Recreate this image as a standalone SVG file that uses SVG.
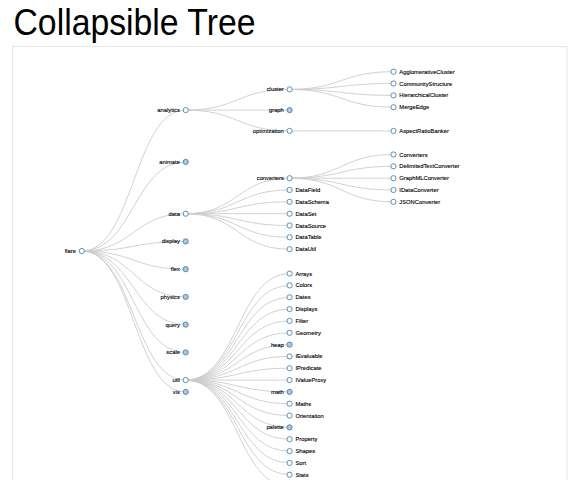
<svg xmlns="http://www.w3.org/2000/svg" width="583" height="480" viewBox="0 0 583 480">
<style>
.title{font-family:"Liberation Sans",Arial,Helvetica,sans-serif;font-size:36px;fill:#000}
.frame{fill:#fff;stroke:#e6e6e6;stroke-width:1}
.link{fill:none;stroke:#ccc;stroke-width:0.9}
.node circle{fill:#fff;stroke:steelblue;stroke-width:0.9}
.node.c circle{fill:lightsteelblue}
.node text{font-family:"Liberation Sans",Arial,Helvetica,sans-serif;font-size:5.8px;fill:#000;stroke:#000;stroke-width:0.12}
.node text.p{text-anchor:end}
.node text.f{text-anchor:start}
</style>
<rect width="583" height="480" fill="#fff"/>
<text class="title" x="13.5" y="34.5" textLength="242" lengthAdjust="spacingAndGlyphs">Collapsible Tree</text>
<rect class="frame" x="12.5" y="46.5" width="554.5" height="450"/>
<g id="links">
<path class="link" d="M81.8,251C133.75,251 133.75,110.1 185.7,110.1"/>
<path class="link" d="M81.8,251C133.75,251 133.75,161.9 185.7,161.9"/>
<path class="link" d="M81.8,251C133.75,251 133.75,213.7 185.7,213.7"/>
<path class="link" d="M81.8,251C133.75,251 133.75,241.4 185.7,241.4"/>
<path class="link" d="M81.8,251C133.75,251 133.75,269.2 185.7,269.2"/>
<path class="link" d="M81.8,251C133.75,251 133.75,296.9 185.7,296.9"/>
<path class="link" d="M81.8,251C133.75,251 133.75,324.6 185.7,324.6"/>
<path class="link" d="M81.8,251C133.75,251 133.75,352.4 185.7,352.4"/>
<path class="link" d="M81.8,251C133.75,251 133.75,380.1 185.7,380.1"/>
<path class="link" d="M81.8,251C133.75,251 133.75,391.9 185.7,391.9"/>
<path class="link" d="M185.7,110.1C237.65,110.1 237.65,89.4 289.6,89.4"/>
<path class="link" d="M185.7,110.1C237.65,110.1 237.65,110.1 289.6,110.1"/>
<path class="link" d="M185.7,110.1C237.65,110.1 237.65,130.9 289.6,130.9"/>
<path class="link" d="M289.6,89.4C341.55,89.4 341.55,71.7 393.5,71.7"/>
<path class="link" d="M289.6,89.4C341.55,89.4 341.55,83.5 393.5,83.5"/>
<path class="link" d="M289.6,89.4C341.55,89.4 341.55,95.4 393.5,95.4"/>
<path class="link" d="M289.6,89.4C341.55,89.4 341.55,107.2 393.5,107.2"/>
<path class="link" d="M289.6,130.9C341.55,130.9 341.55,130.9 393.5,130.9"/>
<path class="link" d="M185.7,213.7C237.65,213.7 237.65,178.2 289.6,178.2"/>
<path class="link" d="M185.7,213.7C237.65,213.7 237.65,190 289.6,190"/>
<path class="link" d="M185.7,213.7C237.65,213.7 237.65,201.8 289.6,201.8"/>
<path class="link" d="M185.7,213.7C237.65,213.7 237.65,213.7 289.6,213.7"/>
<path class="link" d="M185.7,213.7C237.65,213.7 237.65,225.5 289.6,225.5"/>
<path class="link" d="M185.7,213.7C237.65,213.7 237.65,237.3 289.6,237.3"/>
<path class="link" d="M185.7,213.7C237.65,213.7 237.65,249.2 289.6,249.2"/>
<path class="link" d="M289.6,178.2C341.55,178.2 341.55,154.5 393.5,154.5"/>
<path class="link" d="M289.6,178.2C341.55,178.2 341.55,166.3 393.5,166.3"/>
<path class="link" d="M289.6,178.2C341.55,178.2 341.55,178.2 393.5,178.2"/>
<path class="link" d="M289.6,178.2C341.55,178.2 341.55,190 393.5,190"/>
<path class="link" d="M289.6,178.2C341.55,178.2 341.55,201.8 393.5,201.8"/>
<path class="link" d="M185.7,380.1C237.65,380.1 237.65,273.6 289.6,273.6"/>
<path class="link" d="M185.7,380.1C237.65,380.1 237.65,285.4 289.6,285.4"/>
<path class="link" d="M185.7,380.1C237.65,380.1 237.65,297.3 289.6,297.3"/>
<path class="link" d="M185.7,380.1C237.65,380.1 237.65,309.1 289.6,309.1"/>
<path class="link" d="M185.7,380.1C237.65,380.1 237.65,320.9 289.6,320.9"/>
<path class="link" d="M185.7,380.1C237.65,380.1 237.65,332.8 289.6,332.8"/>
<path class="link" d="M185.7,380.1C237.65,380.1 237.65,344.6 289.6,344.6"/>
<path class="link" d="M185.7,380.1C237.65,380.1 237.65,356.4 289.6,356.4"/>
<path class="link" d="M185.7,380.1C237.65,380.1 237.65,368.2 289.6,368.2"/>
<path class="link" d="M185.7,380.1C237.65,380.1 237.65,380.1 289.6,380.1"/>
<path class="link" d="M185.7,380.1C237.65,380.1 237.65,391.9 289.6,391.9"/>
<path class="link" d="M185.7,380.1C237.65,380.1 237.65,403.7 289.6,403.7"/>
<path class="link" d="M185.7,380.1C237.65,380.1 237.65,415.6 289.6,415.6"/>
<path class="link" d="M185.7,380.1C237.65,380.1 237.65,427.4 289.6,427.4"/>
<path class="link" d="M185.7,380.1C237.65,380.1 237.65,439.2 289.6,439.2"/>
<path class="link" d="M185.7,380.1C237.65,380.1 237.65,451.1 289.6,451.1"/>
<path class="link" d="M185.7,380.1C237.65,380.1 237.65,462.9 289.6,462.9"/>
<path class="link" d="M185.7,380.1C237.65,380.1 237.65,474.7 289.6,474.7"/>
<path class="link" d="M185.7,380.1C237.65,380.1 237.65,486.5 289.6,486.5"/>
</g>
<g id="n-flare" class="node" transform="translate(81.8,251)"><circle r="2.6"/><text class="p" x="-5.8" dy="0.35em">flare</text></g>
<g id="n-analytics" class="node" transform="translate(185.7,110.1)"><circle r="2.6"/><text class="p" x="-5.8" dy="0.35em">analytics</text></g>
<g id="n-animate" class="node c" transform="translate(185.7,161.9)"><circle r="2.6"/><text class="p" x="-5.8" dy="0.35em">animate</text></g>
<g id="n-data" class="node" transform="translate(185.7,213.7)"><circle r="2.6"/><text class="p" x="-5.8" dy="0.35em">data</text></g>
<g id="n-display" class="node c" transform="translate(185.7,241.4)"><circle r="2.6"/><text class="p" x="-5.8" dy="0.35em">display</text></g>
<g id="n-flex" class="node c" transform="translate(185.7,269.2)"><circle r="2.6"/><text class="p" x="-5.8" dy="0.35em">flex</text></g>
<g id="n-physics" class="node c" transform="translate(185.7,296.9)"><circle r="2.6"/><text class="p" x="-5.8" dy="0.35em">physics</text></g>
<g id="n-query" class="node c" transform="translate(185.7,324.6)"><circle r="2.6"/><text class="p" x="-5.8" dy="0.35em">query</text></g>
<g id="n-scale" class="node c" transform="translate(185.7,352.4)"><circle r="2.6"/><text class="p" x="-5.8" dy="0.35em">scale</text></g>
<g id="n-util" class="node" transform="translate(185.7,380.1)"><circle r="2.6"/><text class="p" x="-5.8" dy="0.35em">util</text></g>
<g id="n-vis" class="node c" transform="translate(185.7,391.9)"><circle r="2.6"/><text class="p" x="-5.8" dy="0.35em">vis</text></g>
<g id="n-cluster" class="node" transform="translate(289.6,89.4)"><circle r="2.6"/><text class="p" x="-5.8" dy="0.35em">cluster</text></g>
<g id="n-graph" class="node c" transform="translate(289.6,110.1)"><circle r="2.6"/><text class="p" x="-5.8" dy="0.35em">graph</text></g>
<g id="n-optimization" class="node" transform="translate(289.6,130.9)"><circle r="2.6"/><text class="p" x="-5.8" dy="0.35em">optimization</text></g>
<g id="n-AgglomerativeCluster" class="node" transform="translate(393.5,71.7)"><circle r="2.6"/><text class="f" x="5.8" dy="0.35em">AgglomerativeCluster</text></g>
<g id="n-CommunityStructure" class="node" transform="translate(393.5,83.5)"><circle r="2.6"/><text class="f" x="5.8" dy="0.35em">CommunityStructure</text></g>
<g id="n-HierarchicalCluster" class="node" transform="translate(393.5,95.4)"><circle r="2.6"/><text class="f" x="5.8" dy="0.35em">HierarchicalCluster</text></g>
<g id="n-MergeEdge" class="node" transform="translate(393.5,107.2)"><circle r="2.6"/><text class="f" x="5.8" dy="0.35em">MergeEdge</text></g>
<g id="n-AspectRatioBanker" class="node" transform="translate(393.5,130.9)"><circle r="2.6"/><text class="f" x="5.8" dy="0.35em">AspectRatioBanker</text></g>
<g id="n-converters" class="node" transform="translate(289.6,178.2)"><circle r="2.6"/><text class="p" x="-5.8" dy="0.35em">converters</text></g>
<g id="n-DataField" class="node" transform="translate(289.6,190)"><circle r="2.6"/><text class="f" x="5.8" dy="0.35em">DataField</text></g>
<g id="n-DataSchema" class="node" transform="translate(289.6,201.8)"><circle r="2.6"/><text class="f" x="5.8" dy="0.35em">DataSchema</text></g>
<g id="n-DataSet" class="node" transform="translate(289.6,213.7)"><circle r="2.6"/><text class="f" x="5.8" dy="0.35em">DataSet</text></g>
<g id="n-DataSource" class="node" transform="translate(289.6,225.5)"><circle r="2.6"/><text class="f" x="5.8" dy="0.35em">DataSource</text></g>
<g id="n-DataTable" class="node" transform="translate(289.6,237.3)"><circle r="2.6"/><text class="f" x="5.8" dy="0.35em">DataTable</text></g>
<g id="n-DataUtil" class="node" transform="translate(289.6,249.2)"><circle r="2.6"/><text class="f" x="5.8" dy="0.35em">DataUtil</text></g>
<g id="n-Converters" class="node" transform="translate(393.5,154.5)"><circle r="2.6"/><text class="f" x="5.8" dy="0.35em">Converters</text></g>
<g id="n-DelimitedTextConverter" class="node" transform="translate(393.5,166.3)"><circle r="2.6"/><text class="f" x="5.8" dy="0.35em">DelimitedTextConverter</text></g>
<g id="n-GraphMLConverter" class="node" transform="translate(393.5,178.2)"><circle r="2.6"/><text class="f" x="5.8" dy="0.35em">GraphMLConverter</text></g>
<g id="n-IDataConverter" class="node" transform="translate(393.5,190)"><circle r="2.6"/><text class="f" x="5.8" dy="0.35em">IDataConverter</text></g>
<g id="n-JSONConverter" class="node" transform="translate(393.5,201.8)"><circle r="2.6"/><text class="f" x="5.8" dy="0.35em">JSONConverter</text></g>
<g id="n-Arrays" class="node" transform="translate(289.6,273.6)"><circle r="2.6"/><text class="f" x="5.8" dy="0.35em">Arrays</text></g>
<g id="n-Colors" class="node" transform="translate(289.6,285.4)"><circle r="2.6"/><text class="f" x="5.8" dy="0.35em">Colors</text></g>
<g id="n-Dates" class="node" transform="translate(289.6,297.3)"><circle r="2.6"/><text class="f" x="5.8" dy="0.35em">Dates</text></g>
<g id="n-Displays" class="node" transform="translate(289.6,309.1)"><circle r="2.6"/><text class="f" x="5.8" dy="0.35em">Displays</text></g>
<g id="n-Filter" class="node" transform="translate(289.6,320.9)"><circle r="2.6"/><text class="f" x="5.8" dy="0.35em">Filter</text></g>
<g id="n-Geometry" class="node" transform="translate(289.6,332.8)"><circle r="2.6"/><text class="f" x="5.8" dy="0.35em">Geometry</text></g>
<g id="n-heap" class="node c" transform="translate(289.6,344.6)"><circle r="2.6"/><text class="p" x="-5.8" dy="0.35em">heap</text></g>
<g id="n-IEvaluable" class="node" transform="translate(289.6,356.4)"><circle r="2.6"/><text class="f" x="5.8" dy="0.35em">IEvaluable</text></g>
<g id="n-IPredicate" class="node" transform="translate(289.6,368.2)"><circle r="2.6"/><text class="f" x="5.8" dy="0.35em">IPredicate</text></g>
<g id="n-IValueProxy" class="node" transform="translate(289.6,380.1)"><circle r="2.6"/><text class="f" x="5.8" dy="0.35em">IValueProxy</text></g>
<g id="n-math" class="node c" transform="translate(289.6,391.9)"><circle r="2.6"/><text class="p" x="-5.8" dy="0.35em">math</text></g>
<g id="n-Maths" class="node" transform="translate(289.6,403.7)"><circle r="2.6"/><text class="f" x="5.8" dy="0.35em">Maths</text></g>
<g id="n-Orientation" class="node" transform="translate(289.6,415.6)"><circle r="2.6"/><text class="f" x="5.8" dy="0.35em">Orientation</text></g>
<g id="n-palette" class="node c" transform="translate(289.6,427.4)"><circle r="2.6"/><text class="p" x="-5.8" dy="0.35em">palette</text></g>
<g id="n-Property" class="node" transform="translate(289.6,439.2)"><circle r="2.6"/><text class="f" x="5.8" dy="0.35em">Property</text></g>
<g id="n-Shapes" class="node" transform="translate(289.6,451.1)"><circle r="2.6"/><text class="f" x="5.8" dy="0.35em">Shapes</text></g>
<g id="n-Sort" class="node" transform="translate(289.6,462.9)"><circle r="2.6"/><text class="f" x="5.8" dy="0.35em">Sort</text></g>
<g id="n-Stats" class="node" transform="translate(289.6,474.7)"><circle r="2.6"/><text class="f" x="5.8" dy="0.35em">Stats</text></g>
</svg>
